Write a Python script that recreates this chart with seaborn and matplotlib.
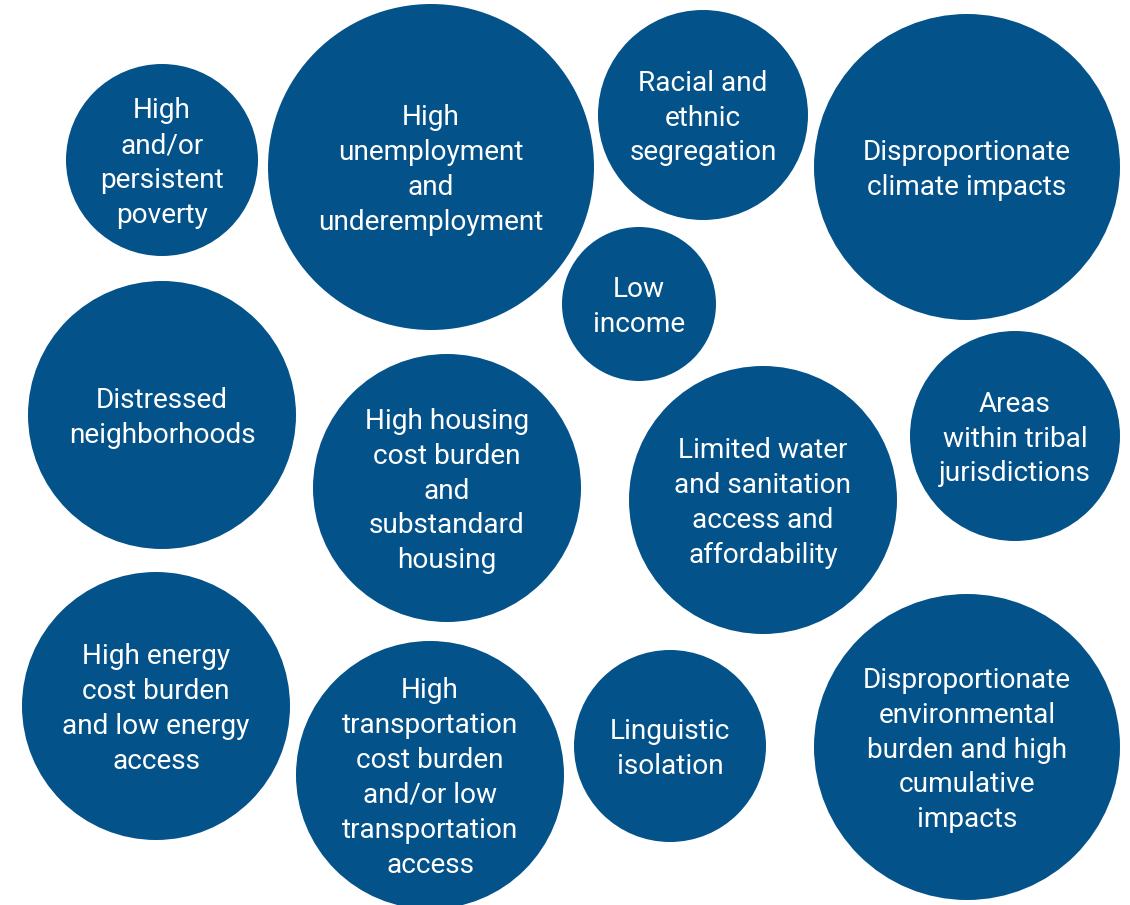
import matplotlib
matplotlib.use("Agg")
import matplotlib.pyplot as plt
import seaborn as sns
import pandas as pd

labels = [
    "High\nand/or\npersistent\npoverty",
    "High\nunemployment\nand\nunderemployment",
    "Racial and\nethnic\nsegregation",
    "Disproportionate\nclimate impacts",
    "Low\nincome",
    "Distressed\nneighborhoods",
    "High housing\ncost burden\nand\nsubstandard\nhousing",
    "Limited water\nand sanitation\naccess and\naffordability",
    "Areas\nwithin tribal\njurisdictions",
    "High energy\ncost burden\nand low energy\naccess",
    "High\ntransportation\ncost burden\nand/or low\ntransportation\naccess",
    "Linguistic\nisolation",
    "Disproportionate\nenvironmental\nburden and high\ncumulative\nimpacts",
]
x_pos = [162, 431, 703, 967, 639, 162, 447, 763, 1015, 156, 430, 670, 967]
y_pos = [160, 167, 115, 167, 304, 415, 488, 500, 436, 706, 775, 746, 747]
radius = [96, 163, 105, 153, 77, 134, 134, 134, 105, 134, 134, 96, 153]

color = "#03528A"
W, H, DPI = 1130, 905, 100

df = pd.DataFrame({"label": labels, "x": x_pos, "y": y_pos, "r": radius})

sns.set_theme(style="white")
plt.rcParams["font.family"] = ["Roboto", "DejaVu Sans"]

fig = plt.figure(figsize=(W / DPI, H / DPI), dpi=DPI)
ax = fig.add_axes([0, 0, 1, 1])
ax.set_xlim(0, W)
ax.set_ylim(H, 0)

px_to_pt = 72.0 / DPI
sizes = {r: (2 * r * px_to_pt) ** 2 for r in set(radius)}
sns.scatterplot(data=df, x="x", y="y", size="r", sizes=sizes, color=color,
                linewidth=0, legend=False, ax=ax, alpha=1)

for _, row in df.iterrows():
    ax.text(row["x"], row["y"] + 3, row["label"], ha="center", va="center",
            color="white", fontsize=20.2, linespacing=1.38)

ax.set_axis_off()
fig.savefig("out.png", dpi=DPI, facecolor="white")
